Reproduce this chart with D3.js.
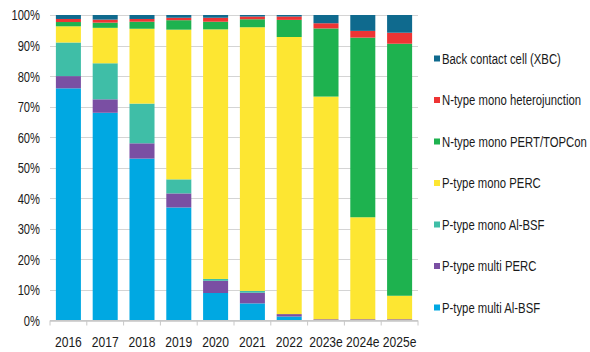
<!DOCTYPE html>
<html>
<head>
<meta charset="utf-8">
<script src="https://cdn.jsdelivr.net/npm/d3@7"></script>
<style>
  html, body { margin: 0; padding: 0; background: #fff; }
  svg { display: block; }
  text { font-family: "Liberation Sans", Arial, sans-serif; fill: #1a1a1a; font-size: 15.5px; }
</style>
</head>
<body>
<svg id="chart" width="590" height="352"></svg>
<script>
// Solar cell technology market share by year (percent of production)
const years = ["2016", "2017", "2018", "2019", "2020", "2021", "2022", "2023e", "2024e", "2025e"];

const multiAlBsf   = [76, 68, 53, 37, 9, 5.6, 1.3, 0, 0, 0];
const multiPerc    = [4, 4.4, 5, 4.6, 4, 3.5, 0.8, 0.4, 0.4, 0.4];
const monoAlBsf    = [11, 11.8, 13, 4.6, 0.6, 0.6, 0, 0, 0, 0];
const monoPerc     = [5.3, 11.6, 24.5, 49, 81.7, 86.3, 90.7, 72.9, 33.4, 7.7];
const nPertTopcon  = [1.4, 1.7, 2.3, 3.1, 2.5, 2.6, 5.6, 22.3, 58.8, 82.5];
const nHeterojunc  = [1.0, 1.0, 0.9, 0.8, 1.3, 0.9, 1.1, 1.7, 2.2, 3.6];
const backContact  = [1.3, 1.5, 1.3, 0.9, 0.9, 0.5, 0.5, 2.7, 5.2, 5.8];

const yTicks = [0, 10, 20, 30, 40, 50, 60, 70, 80, 90, 100];

// Series listed bottom-up in stacking order
const seriesNames = [
  "P-type multi Al-BSF",
  "P-type multi PERC",
  "P-type mono Al-BSF",
  "P-type mono PERC",
  "N-type mono PERT/TOPCon",
  "N-type mono heterojunction",
  "Back contact cell (XBC)"
];
const seriesValues = [multiAlBsf, multiPerc, monoAlBsf, monoPerc, nPertTopcon, nHeterojunc, backContact];
const seriesColors = ["#00a8e2", "#7a4fa3", "#3fbea7", "#fde632", "#1eb24f", "#ee3434", "#0f6a8e"];

const rows = years.map((y, i) => {
  const r = { year: y };
  seriesNames.forEach((n, k) => { r[n] = seriesValues[k][i]; });
  return r;
});

// Condensed lettering: horizontal squeeze per label group
const squeezeY = 0.72;
const squeezeX = 0.78;

const svg = d3.select("#chart");
const x = d3.scaleBand().domain(years).range([50, 418]).paddingInner(0.32).paddingOuter(0.16);
const y = d3.scaleLinear().domain([0, 100]).range([320.5, 15]);
const color = d3.scaleOrdinal().domain(seriesNames).range(seriesColors);

// Horizontal gridlines
svg.append("g")
  .selectAll("line")
  .data(yTicks)
  .join("line")
  .attr("x1", 50).attr("x2", 418)
  .attr("y1", d => Math.round(y(d)) + 0.5)
  .attr("y2", d => Math.round(y(d)) + 0.5)
  .attr("stroke", "#d4d4d4")
  .attr("stroke-width", 1);

// Y axis labels
svg.append("g")
  .selectAll("text")
  .data(yTicks)
  .join("text")
  .attr("transform", d => `translate(40,${y(d)}) scale(${squeezeY},1)`)
  .attr("text-anchor", "end")
  .attr("dy", "0.35em")
  .text(d => d + "%");

// Stacked bars
const stacked = d3.stack().keys(seriesNames)(rows);
svg.append("g")
  .selectAll("g")
  .data(stacked)
  .join("g")
  .attr("fill", d => color(d.key))
  .selectAll("rect")
  .data(d => d)
  .join("rect")
  .attr("x", d => x(d.data.year))
  .attr("width", x.bandwidth())
  .attr("y", d => y(d[1]))
  .attr("height", d => Math.max(0, y(d[0]) - y(d[1])));

// X axis with ticks between categories
const gx = svg.append("g").attr("transform", "translate(0,320.5)");
gx.append("line").attr("x1", 50).attr("x2", 418).attr("y1", 0).attr("y2", 0).attr("stroke", "#c8c8c8");
const bounds = years.map(yv => x(yv) - x.step() * x.paddingInner() / 2).concat([418]);
bounds[0] = 50;
gx.selectAll("line.tick")
  .data(bounds)
  .join("line")
  .attr("class", "tick")
  .attr("x1", d => d).attr("x2", d => d)
  .attr("y1", 0).attr("y2", 5)
  .attr("stroke", "#c8c8c8");
gx.selectAll("text")
  .data(years)
  .join("text")
  .attr("transform", d => `translate(${x(d) + x.bandwidth() / 2},26) scale(${squeezeX},1)`)
  .attr("text-anchor", "middle")
  .text(d => d);

// Legend, top entry is the top of the stack
const legendItems = seriesNames.slice().reverse();
const legend = svg.append("g")
  .selectAll("g")
  .data(legendItems)
  .join("g")
  .attr("transform", (d, i) => `translate(434,${58.5 + i * 41.5})`);
legend.append("rect")
  .attr("x", 0).attr("y", -3)
  .attr("width", 6).attr("height", 6)
  .attr("fill", d => color(d));
const legendText = legend.append("text")
  .attr("dy", "0.35em")
  .text(d => d);

// Squeeze legend labels so the longest one fits in the right margin
const legendRoom = 145;
const widest = d3.max(legendText.nodes(), n => n.getComputedTextLength());
const squeezeLegend = Math.min(1, legendRoom / widest);
legendText.attr("transform", `translate(8,0) scale(${squeezeLegend},1)`);
</script>
</body>
</html>
